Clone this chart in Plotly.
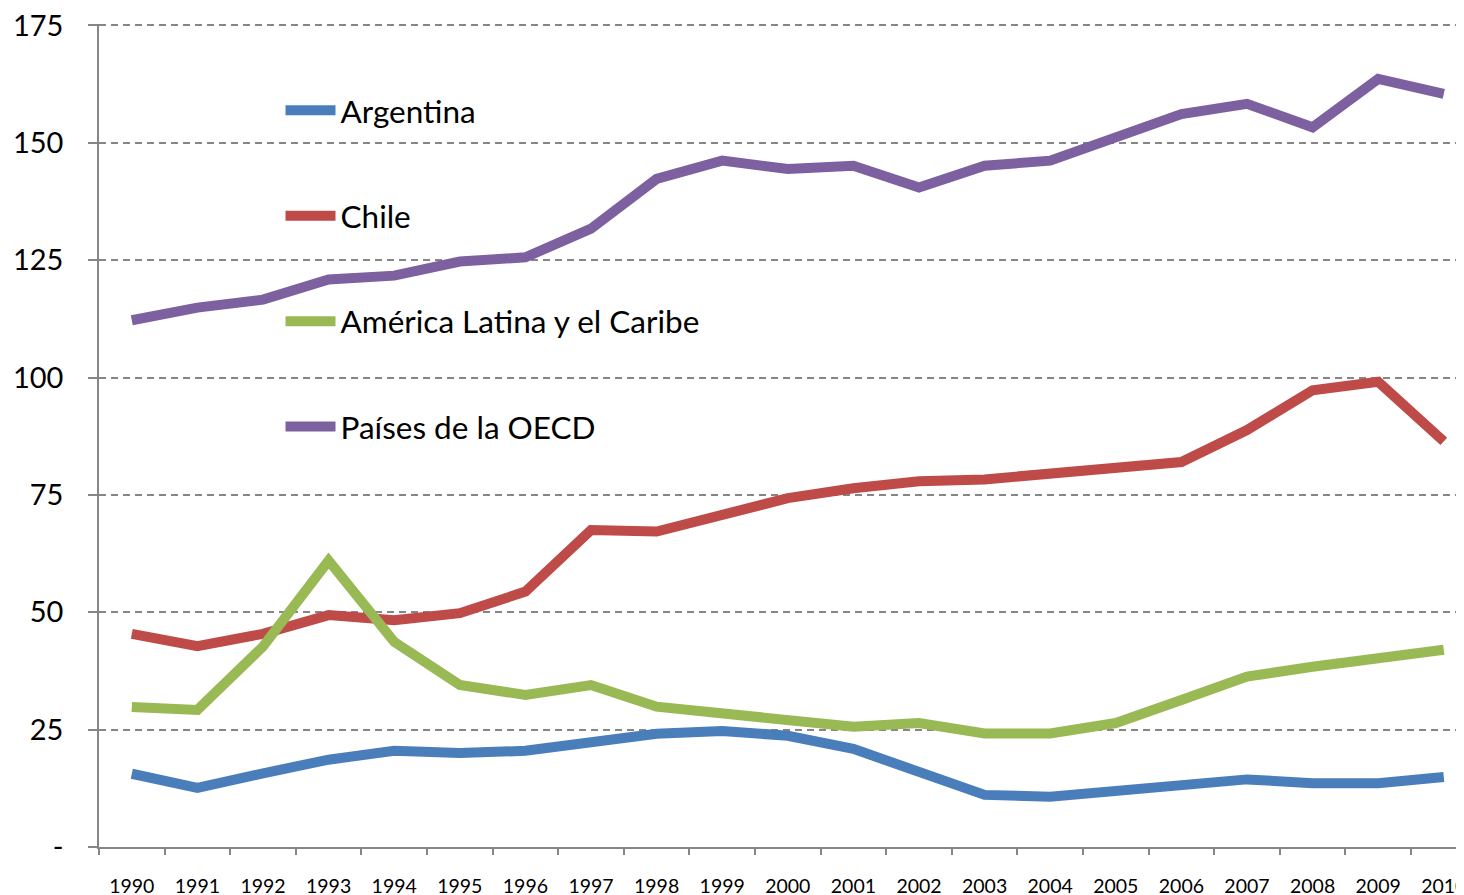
import plotly.graph_objects as go

years = [str(y) for y in range(1990, 2011)]
argentina = [15.6, 12.6, 15.7, 18.6, 20.5, 20.0, 20.5, 22.2, 24.1, 24.7, 23.7, 20.9, 15.8, 11.1, 10.7, 12.0, 13.3, 14.4, 13.6, 13.6, 14.9]
chile = [45.4, 42.8, 45.4, 49.4, 48.3, 49.8, 54.4, 67.5, 67.2, 71.0, 74.3, 76.4, 77.9, 78.3, 79.5, 80.4, 82.0, 88.8, 97.3, 99.1, 86.4]
lac = [29.8, 29.2, 42.7, 61.0, 43.7, 34.5, 32.4, 34.5, 29.9, 28.5, 27.5, 25.6, 26.4, 24.2, 24.2, 26.4, 31.3, 36.3, 38.4, 40.2, 42.0]
oecd = [112.2, 114.9, 116.6, 120.9, 121.7, 124.7, 125.6, 131.7, 142.3, 146.2, 144.4, 145.1, 140.5, 145.1, 146.2, 151.2, 156.1, 158.3, 153.3, 163.6, 160.4]

names = ["Argentina", "Chile", "América Latina y el Caribe", "Países de la OECD"]
colors = ["#4A7EBB", "#BE4B48", "#98B954", "#7D60A0"]
series = [argentina, chile, lac, oecd]

y_ticks = [0, 25, 50, 75, 100, 125, 150, 175]
y_ticktext = ["-", "25", "50", "75", "100", "125", "150", "175"]

fig = go.Figure()
for name, col, vals in zip(names, colors, series):
    fig.add_trace(go.Scatter(
        x=years, y=vals, mode="lines", name=name, legendgroup=name,
        line=dict(color=col, width=10),
    ))

fig.update_layout(
    width=1464, height=895,
    margin=dict(l=91, r=0, t=16, b=56),
    paper_bgcolor="white", plot_bgcolor="white",
    font=dict(family="Lato", color="black"),
    legend=dict(
        x=0.1322, y=0.928, xanchor="left", yanchor="top",
        font=dict(size=31.5, color="black", family="Lato"),
        traceorder="grouped", tracegroupgap=61.5, itemwidth=50,
        bgcolor="rgba(0,0,0,0)",
    ),
    showlegend=True,
)

fig.update_xaxes(
    type="category", range=[-0.5, 20.43],
    tickson="boundaries", ticks="outside", ticklen=6, tickcolor="#868686", tickwidth=1.5,
    showline=True, linecolor="#868686", linewidth=1.5,
    showgrid=False, tickfont=dict(size=19.5, family="Lato", color="black"),
    ticklabelstandoff=21, ticklabeloverflow="allow",
)

fig.update_yaxes(
    range=[0, 175.3], tickvals=y_ticks, ticktext=y_ticktext,
    ticks="outside", ticklen=9, tickcolor="#868686", tickwidth=1.5,
    showline=True, linecolor="#868686", linewidth=1.5,
    showgrid=True, gridcolor="#868686", gridwidth=1.5, griddash="7px,5px",
    zeroline=False,
    tickfont=dict(size=29, family="Lato", color="black"),
    ticklabelstandoff=19, ticklabeloverflow="allow",
)

fig.write_html("out.html")
